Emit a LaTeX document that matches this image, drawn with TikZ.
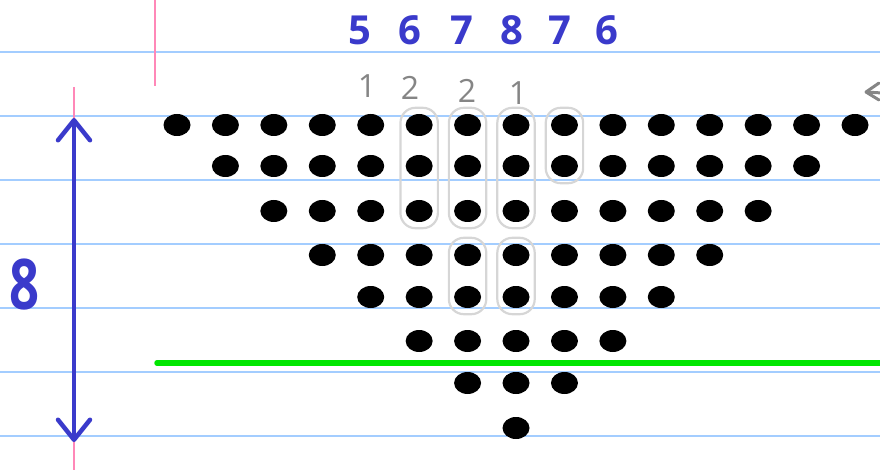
\documentclass[tikz,border=0pt]{standalone}
\usepackage{fontspec}
\setsansfont{Open Sans}
\usetikzlibrary{shapes.geometric,fit,arrows.meta}
\definecolor{rulec}{HTML}{A3CDFF}
\definecolor{marginc}{HTML}{FF88B8}
\definecolor{ink}{HTML}{3A3ACB}
\definecolor{pencil}{HTML}{858585}
\definecolor{hl}{HTML}{00E600}
\begin{document}
\begin{tikzpicture}[x=1pt,y=-1pt,
  rulel/.style={rulec,line width=2pt},
  marginl/.style={marginc,line width=1.5pt},
  dot/.style={ellipse,fill=black,minimum width=27pt,minimum height=22pt,inner sep=0pt},
  grp/.style={draw=black!16,line width=2.2pt,rounded corners=15pt,inner xsep=5pt,inner ysep=6pt},
  inkt/.style={ink,font=\sffamily\bfseries\fontsize{40}{40}\selectfont},
  pent/.style={pencil,font=\sffamily\fontsize{32}{32}\selectfont},
  hline/.style={hl,line width=5.5pt,line cap=round}]
\useasboundingbox (0,0) rectangle (880,470);
% ruled paper
\foreach \yy in {52,116,180,244,308,372,436}
  \draw[rulel] (0,\yy) -- (880,\yy);
\draw[marginl] (155,0) -- (155,86);
\draw[marginl] (74,87) -- (74,470);
% dots
\foreach \r/\yy in {1/125,2/166,3/211,4/255,5/297,6/341,7/383,8/428}{
  \pgfmathtruncatemacro{\last}{16-\r}
  \foreach \c in {\r,...,\last}{
    \node[dot] (d-\r-\c) at ({177+(\c-1)*48.43},\yy) {};
  }
}
% grouping boxes
\node[grp,fit=(d-1-6)(d-3-6)] (g1) {};
\node[grp,fit=(d-1-7)(d-3-7)] (g2) {};
\node[grp,fit=(d-1-8)(d-3-8)] (g3) {};
\node[grp,fit=(d-1-9)(d-2-9)] (g4) {};
\node[grp,fit=(d-4-7)(d-5-7)] (g5) {};
\node[grp,fit=(d-4-8)(d-5-8)] (g6) {};
% green line
\coordinate (gl) at (157,363);
\coordinate (gr) at (885,363);
\draw[hline] (gl) -- (gr);
% blue numbers
\node[inkt] (t1) at (360,30) {5};
\node[inkt] (t2) at (410,30) {6};
\node[inkt] (t3) at (462,30) {7};
\node[inkt] (t4) at (512,30) {8};
\node[inkt] (t5) at (560,30) {7};
\node[inkt] (t6) at (607,30) {6};
% pencil numbers
\node[pent] (p1) at (367,86) {1};
\node[pent] (p2) at (410,88) {2};
\node[pent] (p3) at (467,91) {2};
\node[pent] (p4) at (518,93) {1};
% pencil arrow fragment at right edge
\coordinate (pa) at (866,92);
\draw[pencil,line width=3pt,line cap=round,line join=round]
  (879,83) -- (pa) -- (879,100);
\draw[pencil,line width=3pt] (pa) -- (882,93);
% height arrow
\coordinate (atop) at (74,118);
\coordinate (abot) at (74,442);
\draw[ink,line width=4.5pt,line cap=round,
  {Straight Barb[length=20pt,width=32pt,line cap=round,line join=round]}-{Straight Barb[length=20pt,width=32pt,line cap=round,line join=round]}]
  (atop) -- (abot);
\node[ink,font=\sffamily\bfseries\fontsize{70}{70}\selectfont,xscale=0.75] (h) at (24,285) {8};
\end{tikzpicture}
\end{document}
